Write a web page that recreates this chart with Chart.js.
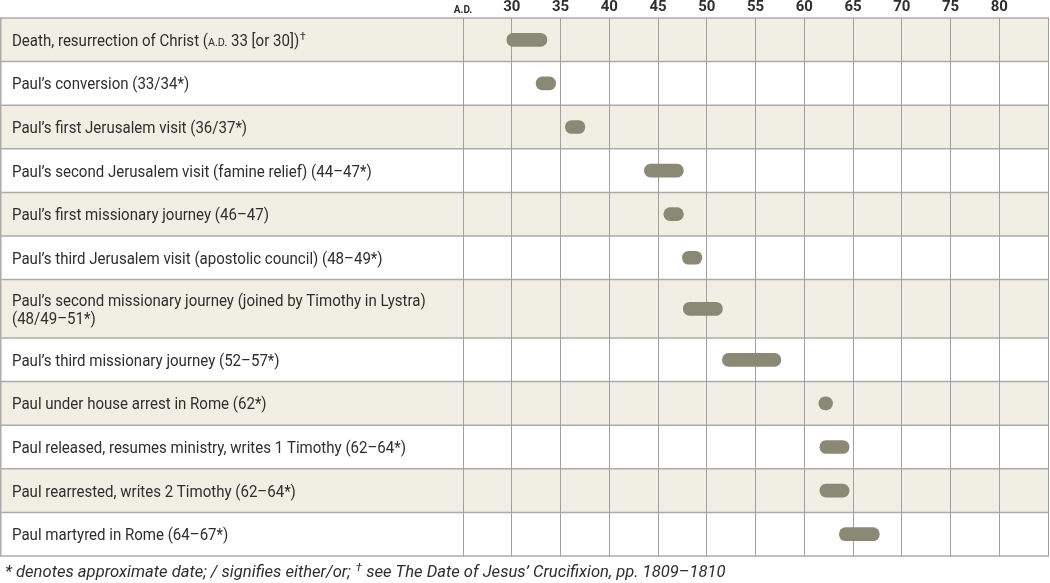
<!DOCTYPE html>
<html>
<head>
<meta charset="utf-8">
<script src="https://cdn.jsdelivr.net/npm/chart.js@4.4.1/dist/chart.umd.min.js"></script>
<style>
  html, body { margin: 0; background: #fff; }
  #wrap { width: 1050px; height: 583px; position: relative; }
</style>
</head>
<body>
<div id="wrap"><canvas id="output"></canvas></div>
<script>
// events, one entry per row (each inner array = lines of the label)
const eventLabels = [
  ["Death, resurrection of Christ (A.D. 33 [or 30])†"],
  ["Paul’s conversion (33/34*)"],
  ["Paul’s first Jerusalem visit (36/37*)"],
  ["Paul’s second Jerusalem visit (famine relief) (44–47*)"],
  ["Paul’s first missionary journey (46–47)"],
  ["Paul’s third Jerusalem visit (apostolic council) (48–49*)"],
  ["Paul’s second missionary journey (joined by Timothy in Lystra)", "(48/49–51*)"],
  ["Paul’s third missionary journey (52–57*)"],
  ["Paul under house arrest in Rome (62*)"],
  ["Paul released, resumes ministry, writes 1 Timothy (62–64*)"],
  ["Paul rearrested, writes 2 Timothy (62–64*)"],
  ["Paul martyred in Rome (64–67*)"],
];

// bar extents as drawn (years A.D.)
const startYears = [29.5, 32.5, 35.5, 43.6, 45.6, 47.5, 47.6, 51.6, 61.5, 61.6, 61.6, 63.6];
const endYears   = [33.6, 34.5, 37.5, 47.6, 47.6, 49.5, 51.6, 57.6, 62.9, 64.6, 64.6, 67.7];

// axis ticks
const tickYears  = [25, 30, 35, 40, 45, 50, 55, 60, 65, 70, 75, 80, 85];
const tickLabels = ["A.D.", "30", "35", "40", "45", "50", "55", "60", "65", "70", "75", "80", ""];

const footnote = "* denotes approximate date; / signifies either/or; † see The Date of Jesus’ Crucifixion, pp. 1809–1810";

const FONT = 'Roboto, "Open Sans", sans-serif';
const TEXT = "#2e2e2e";
const BEIGE = "#f1efe3";
const LINE = "#ababab";
const BAR = "#8a8975";
const EXTRA_LINE = 0.34; // extra row height per additional label line

// row bands on the y scale (derived from the number of label lines)
const rowTop = [];
const rowMid = [];
let acc = 0;
eventLabels.forEach((lines) => {
  const h = 1 + (lines.length - 1) * EXTRA_LINE;
  rowTop.push(acc);
  rowMid.push(acc + h / 2);
  acc += h;
});
const yTotal = acc;

// draws text with small-caps A.D. and superscript dagger, condensed by sx
function drawRich(ctx, text, x0, y, size, style, sx) {
  ctx.save();
  ctx.translate(x0, y);
  ctx.scale(sx, 1);
  let x = 0;
  const parts = text.split(/(A\.D\.|†)/);
  parts.forEach((p) => {
    if (!p) return;
    if (p === "A.D.") {
      ctx.font = `${style} ${size * 0.72}px ${FONT}`;
      ctx.fillText(p, x, 0);
      x += ctx.measureText(p).width;
    } else if (p === "†") {
      ctx.font = `${style} ${size * 0.7}px ${FONT}`;
      ctx.fillText(p, x + 1, -size * 0.38);
      x += ctx.measureText(p).width + 1;
    } else {
      ctx.font = `${style} ${size}px ${FONT}`;
      ctx.fillText(p, x, 0);
      x += ctx.measureText(p).width;
    }
  });
  ctx.restore();
}

const tablePlugin = {
  id: "table",
  beforeDraw(chart) {
    const { ctx, chartArea, scales } = chart;
    const y = scales.y;
    const right = chartArea.right;
    ctx.save();
    // row backgrounds
    rowTop.forEach((t, i) => {
      const top = y.getPixelForValue(t);
      const h = 1 + (eventLabels[i].length - 1) * EXTRA_LINE;
      const bot = y.getPixelForValue(t + h);
      ctx.fillStyle = i % 2 === 0 ? BEIGE : "#ffffff";
      ctx.fillRect(0, top, right, bot - top);
    });
    // horizontal rules
    ctx.strokeStyle = LINE;
    ctx.lineWidth = 1.5;
    const bounds = rowTop.concat([yTotal]);
    bounds.forEach((b) => {
      const py = y.getPixelForValue(b);
      ctx.beginPath();
      ctx.moveTo(0, py);
      ctx.lineTo(right + 1, py);
      ctx.stroke();
    });
    // left border
    ctx.beginPath();
    ctx.moveTo(0.75, y.getPixelForValue(0));
    ctx.lineTo(0.75, y.getPixelForValue(yTotal));
    ctx.stroke();
    // labels
    ctx.fillStyle = TEXT;
    ctx.textBaseline = "alphabetic";
    ctx.textAlign = "left";
    const lh = 18.5;
    eventLabels.forEach((lines, i) => {
      const mid = y.getPixelForValue(rowMid[i]);
      const first = mid + 6 - (lines.length - 1) * lh / 2;
      lines.forEach((line, k) => {
        drawRich(ctx, line, 12, first + k * lh, 16, "", 0.94);
      });
    });
    // footnote
    drawRich(ctx, footnote, 5, 577, 16.6, "italic", 1);
    ctx.restore();
  },
};

const barData = eventLabels.map((_, i) => ({ x: [startYears[i], endYears[i]], y: rowMid[i] }));

new Chart(document.getElementById("output"), {
  type: "bar",
  data: {
    datasets: [
      {
        data: barData,
        backgroundColor: BAR,
        borderWidth: 0,
        borderRadius: 7,
        borderSkipped: false,
        barThickness: 13,
      },
    ],
  },
  options: {
    indexAxis: "y",
    responsive: true,
    maintainAspectRatio: false,
    animation: false,
    layout: { padding: { left: 463, right: 2, top: 0, bottom: 27 } },
    plugins: { legend: { display: false }, tooltip: { enabled: false } },
    scales: {
      x: {
        type: "linear",
        position: "top",
        min: 25,
        max: 85,
        afterBuildTicks: (s) => { s.ticks = tickYears.map((v) => ({ value: v })); },
        afterFit: (s) => { s.height = 18; },
        grid: { color: "#a0a0a0", lineWidth: 1, drawTicks: false },
        border: { display: false },
        ticks: {
          autoSkip: false,
          maxRotation: 0,
          padding: 2,
          color: TEXT,
          callback: (v) => tickLabels[tickYears.indexOf(v)],
          font: (c) => (c.tick && c.tick.value === 25)
            ? { family: FONT, size: 10, weight: "bold" }
            : { family: FONT, size: 15, weight: "bold" },
        },
      },
      y: {
        type: "linear",
        display: false,
        reverse: true,
        offset: false,
        min: 0,
        max: yTotal,
      },
    },
  },
  plugins: [tablePlugin],
});
</script>
</body>
</html>
